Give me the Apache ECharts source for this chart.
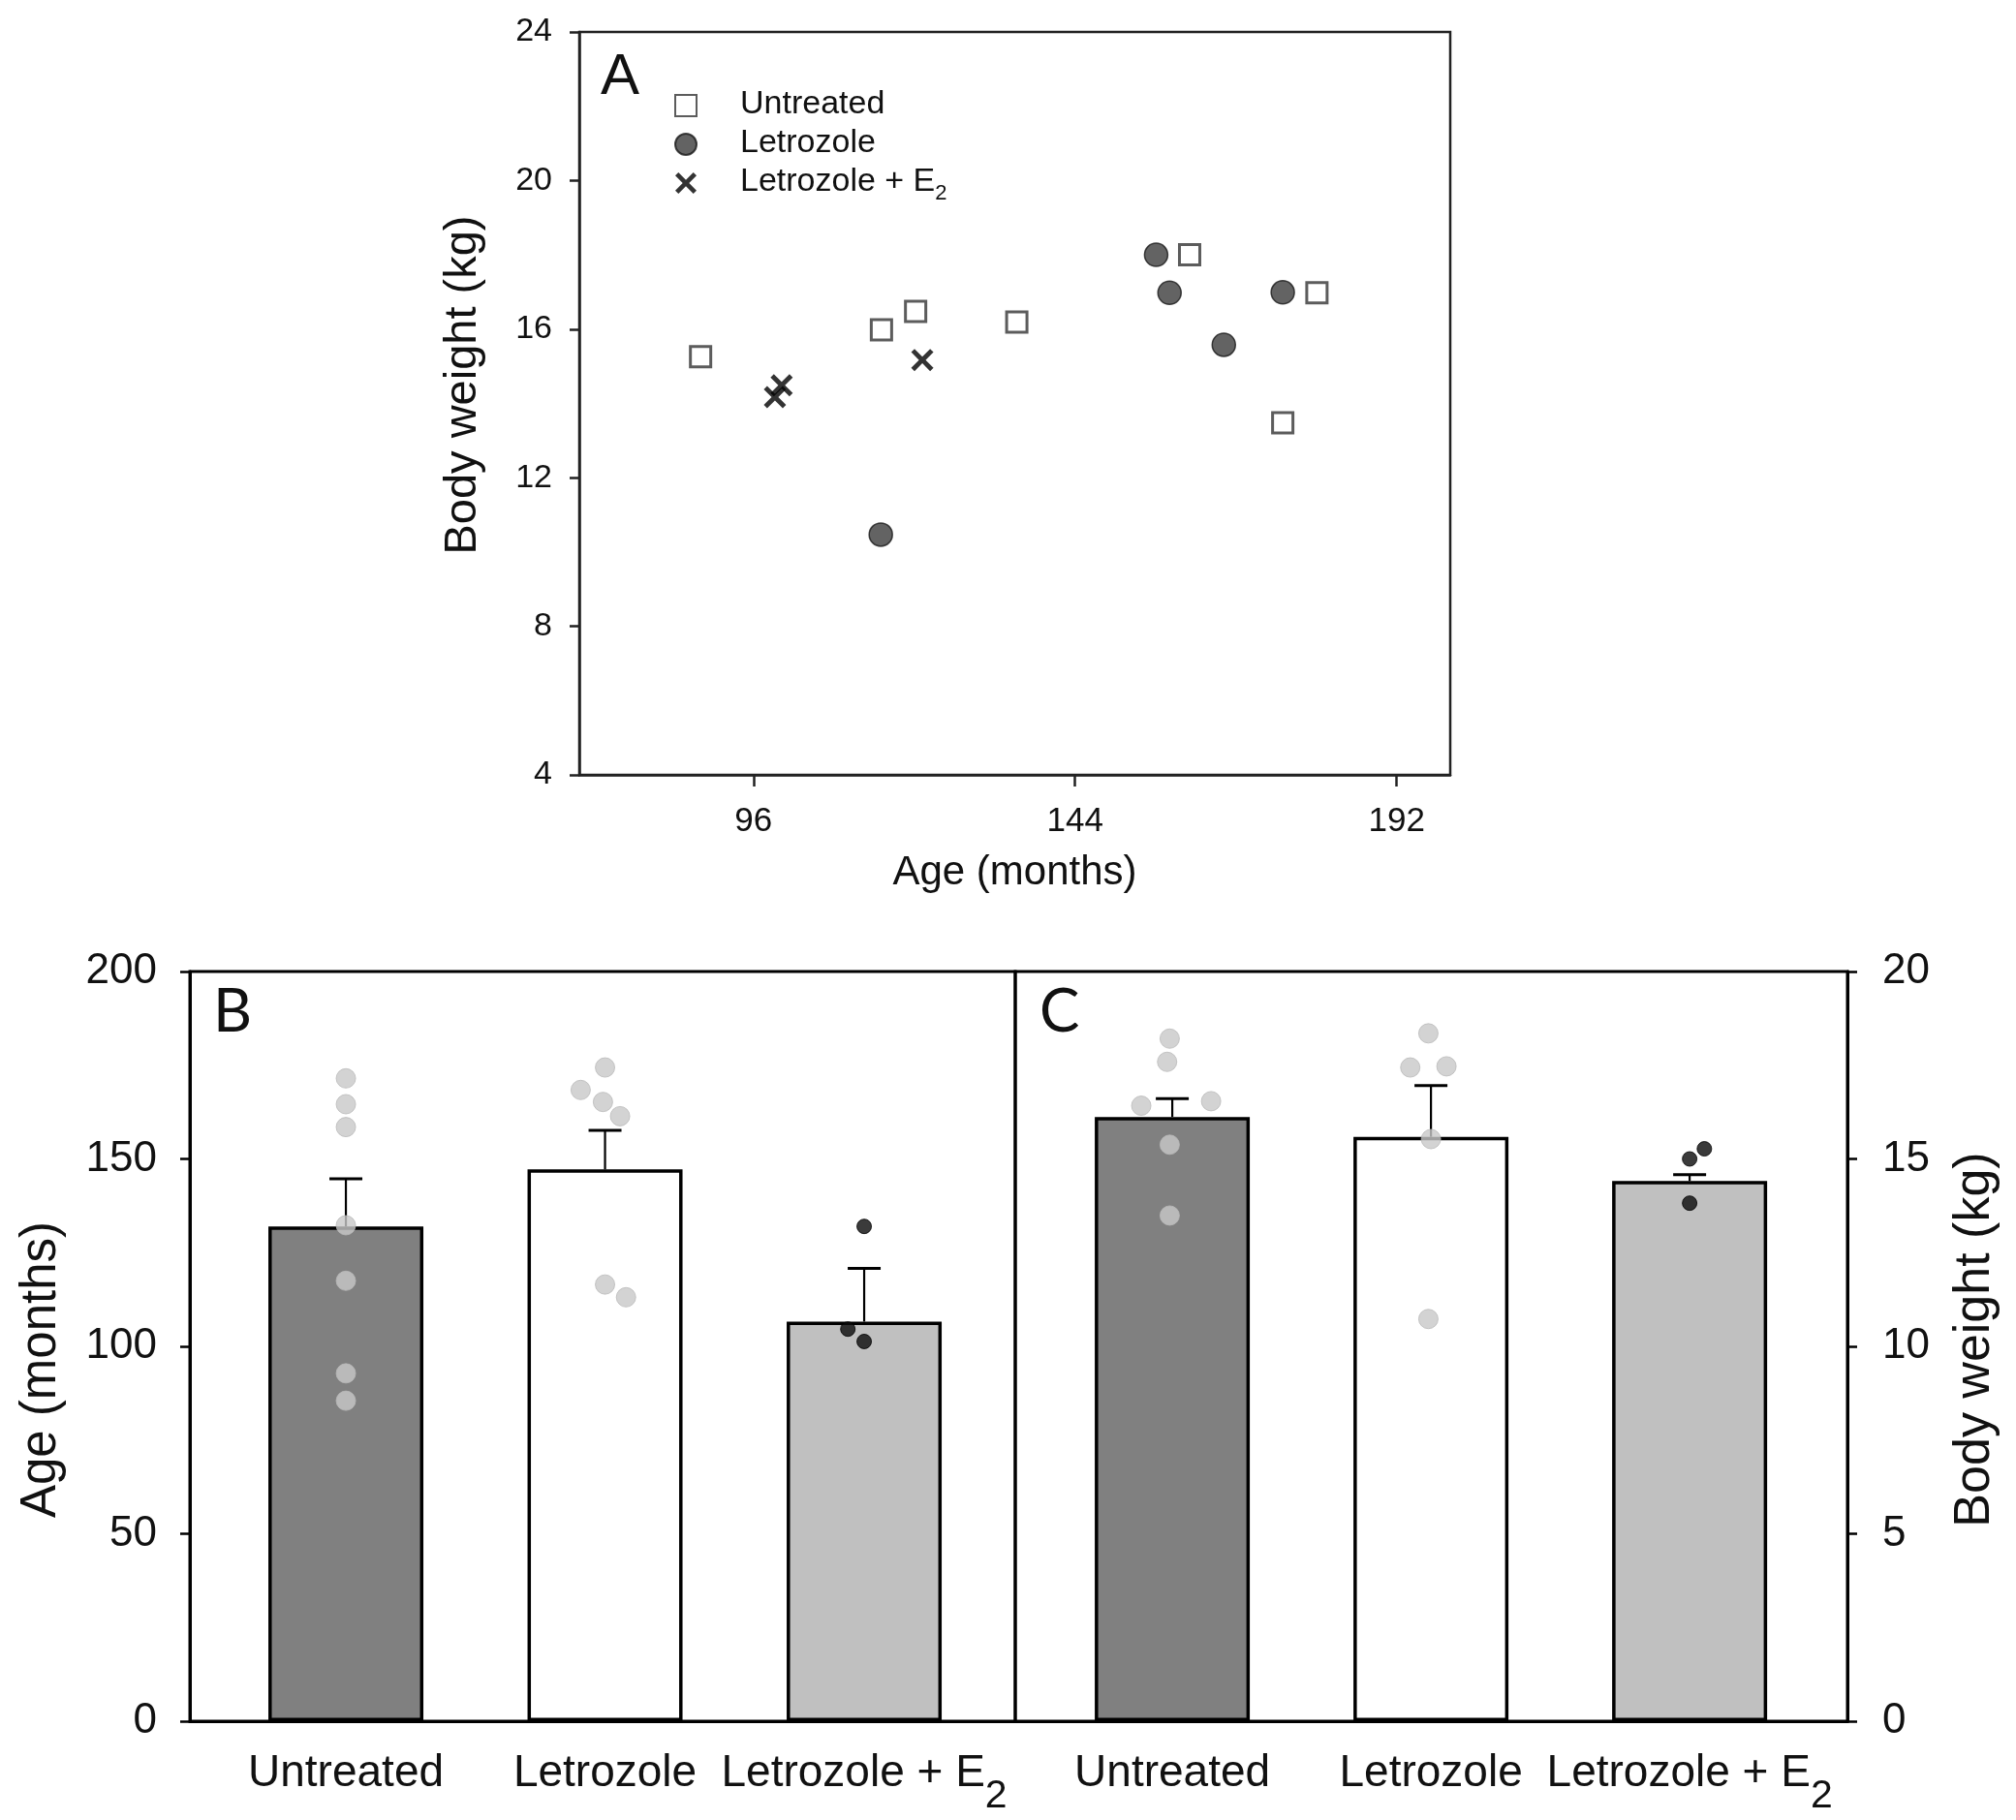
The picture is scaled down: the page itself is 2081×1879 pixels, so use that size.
<!DOCTYPE html>
<html>
<head>
<meta charset="utf-8">
<script src="https://cdn.jsdelivr.net/npm/echarts@6/dist/echarts.min.js"></script>
<style>
html,body{margin:0;padding:0;background:#fff;}
#c{width:2081px;height:1879px;}
</style>
</head>
<body>
<div id="c"></div>
<script>
// ---------- Data ----------
// Panel A: individual animals (age in months, body weight in kg)
const aUntreatedAge = [88.1, 115.1, 120.2, 135.3, 161.1, 175.0, 180.1];
const aUntreatedWt  = [15.26, 15.98, 16.48, 16.19, 18.0, 13.48, 16.98];
const aLetrozoleAge = [115.0, 156.1, 158.1, 166.2, 175.0];
const aLetrozoleWt  = [10.47, 18.0, 16.98, 15.58, 16.99];
const aE2Age = [99.2, 100.2, 121.2];
const aE2Wt  = [14.17, 14.49, 15.17];

// Panels B & C: group summaries
const groups = ['Untreated', 'Letrozole', 'Letrozole + E2'];
const ageMean = [132.0, 147.2, 106.6];
const ageSem  = [12.7, 10.4, 14.2];
const wtMean  = [16.12, 15.59, 14.41];
const wtSem   = [0.49, 1.37, 0.17];

// Panel B individual ages, with horizontal jitter (in category units)
const bUntreated = [171.5, 164.6, 158.5, 132.3, 117.5, 92.8, 85.5];
const bUntreatedJit = [0, 0, 0, 0, 0, 0, 0];
const bLetrozole = [174.4, 168.4, 165.2, 161.4, 116.5, 113.1];
const bLetrozoleJit = [0, -0.094, -0.008, 0.058, 0, 0.081];
const bE2 = [132.0, 104.6, 101.3];
const bE2Jit = [0, -0.063, 0];

// Panel C individual weights, with jitter
const cUntreated = [18.21, 17.59, 16.42, 16.54, 15.38, 13.49];
const cUntreatedJit = [-0.01, -0.02, -0.12, 0.15, -0.01, -0.01];
const cLetrozole = [18.35, 17.44, 17.47, 15.53, 10.73];
const cLetrozoleJit = [-0.01, -0.08, 0.06, 0, -0.01];
const cE2 = [15.0, 15.27, 13.82];
const cE2Jit = [0, 0.057, 0];

// Tick values
const aXTicks = [96, 144, 192];
const bcXTicks = [0, 1, 2];

// ---------- Build ----------
const FONT = '"Liberation Sans", Arial, sans-serif';
const TXT = '#111';
const barColors = ['#808080', '#ffffff', '#c0c0c0'];

const zip = (xs, ys) => xs.map((x, i) => [x, ys[i]]);
function dots(vals, jit, g) { return vals.map((v, i) => [g + jit[i], v, g]); }

const crossPath = 'path://M3,0 L10,7 L17,0 L20,3 L13,10 L20,17 L17,20 L10,13 L3,20 L0,17 L7,10 L0,3 Z';

const catLabelRich = {
  n: {fontSize: 46, fontFamily: FONT, color: TXT, lineHeight: 56, verticalAlign: 'top'},
  s: {fontSize: 41, fontFamily: FONT, color: TXT, lineHeight: 56, verticalAlign: 'top', padding: [26, 0, 0, 0]}
};
function catFormatter(v) {
  const name = groups[Math.round(v)];
  if (name === 'Letrozole + E2') return '{n|Letrozole + E}{s|2}';
  return '{n|' + name + '}';
}

const bcXAxisCommon = {
  type: 'value',
  axisLine: {show: true, onZero: false, lineStyle: {color: '#000', width: 3}},
  axisTick: {show: false},
  splitLine: {show: false},
  axisLabel: {customValues: bcXTicks, formatter: catFormatter, margin: 31, rich: catLabelRich}
};

function errSeries(xi, yi, means, sems) {
  return {
    type: 'custom', xAxisIndex: xi, yAxisIndex: yi, z: 3,
    data: means.map((m, i) => [i, m, sems[i]]),
    renderItem: function (params, api) {
      const x = api.value(0), m = api.value(1), s = api.value(2);
      const p0 = api.coord([x, m]);
      const p1 = api.coord([x, m + s]);
      const hw = 17;
      return {type: 'group', children: [
        {type: 'line', shape: {x1: p0[0], y1: p0[1], x2: p1[0], y2: p1[1]}, style: {stroke: '#000', lineWidth: 2.2}},
        {type: 'line', shape: {x1: p1[0] - hw, y1: p1[1], x2: p1[0] + hw, y2: p1[1]}, style: {stroke: '#000', lineWidth: 3}}
      ]};
    }
  };
}
function barSeries(xi, yi, means) {
  return {
    type: 'bar', xAxisIndex: xi, yAxisIndex: yi, barWidth: 160, z: 2,
    data: means.map((m, i) => ({value: [i, m], itemStyle: {color: barColors[i]}})),
    itemStyle: {borderColor: '#000', borderWidth: 3.5}
  };
}
function dotSeries(xi, yi, data, black) {
  return {
    type: 'scatter', xAxisIndex: xi, yAxisIndex: yi, z: 5,
    symbol: 'circle', symbolSize: black ? 15 : 20,
    itemStyle: black ? {color: '#0a0a0a', borderColor: '#000', borderWidth: 1}
                     : {color: '#c8c8c8', borderColor: '#b9b9b9', borderWidth: 1},
    data: data
  };
}

const option = {
  backgroundColor: '#fff',
  animation: false,
  textStyle: {fontFamily: FONT, color: TXT},
  grid: [
    {left: 598, top: 33, width: 899, height: 767, show: true, borderColor: '#222', borderWidth: 2.5, backgroundColor: 'transparent'},
    {left: 196, top: 1003, width: 852, height: 774, show: true, borderColor: '#000', borderWidth: 3, backgroundColor: 'transparent'},
    {left: 1048, top: 1003, width: 859, height: 774, show: true, borderColor: '#000', borderWidth: 3, backgroundColor: 'transparent'}
  ],
  xAxis: [
    {
      gridIndex: 0, type: 'value', min: 70, max: 200,
      name: 'Age (months)', nameLocation: 'middle', nameGap: 80,
      nameTextStyle: {fontSize: 42, fontFamily: FONT, color: TXT},
      axisLine: {show: true, onZero: false, lineStyle: {color: '#222', width: 2.5}},
      axisTick: {show: true, customValues: aXTicks, length: 12, lineStyle: {color: '#222', width: 2.5}},
      axisLabel: {customValues: aXTicks, fontSize: 35, fontFamily: FONT, color: TXT, margin: 31},
      splitLine: {show: false}
    },
    Object.assign({gridIndex: 1, min: -0.602, max: 2.583}, bcXAxisCommon),
    Object.assign({gridIndex: 2, min: -0.607, max: 2.61}, bcXAxisCommon)
  ],
  yAxis: [
    {
      gridIndex: 0, type: 'value', min: 4, max: 24, interval: 4,
      name: 'Body weight (kg)', nameLocation: 'middle', nameGap: 96,
      nameTextStyle: {fontSize: 47, fontFamily: FONT, color: TXT, padding: [0, 0, 0, 38]},
      axisLine: {show: true, onZero: false, lineStyle: {color: '#222', width: 2.5}},
      axisTick: {show: true, length: 10, lineStyle: {color: '#222', width: 2.5}},
      axisLabel: {fontSize: 34, fontFamily: FONT, color: TXT, margin: 28},
      splitLine: {show: false}
    },
    {
      gridIndex: 1, type: 'value', min: 0, max: 200, interval: 50, position: 'left',
      name: 'Age (months)', nameLocation: 'middle', nameGap: 128,
      nameTextStyle: {fontSize: 51, fontFamily: FONT, color: TXT, padding: [0, 48, 0, 0]},
      axisLine: {show: true, onZero: false, lineStyle: {color: '#000', width: 3}},
      axisTick: {show: true, length: 10, lineStyle: {color: '#000', width: 2.5}},
      axisLabel: {fontSize: 44, fontFamily: FONT, color: TXT, margin: 34},
      splitLine: {show: false}
    },
    {
      gridIndex: 2, type: 'value', min: 0, max: 20, interval: 5, position: 'right',
      name: 'Body weight (kg)', nameLocation: 'middle', nameGap: 106,
      nameTextStyle: {fontSize: 52, fontFamily: FONT, color: TXT, padding: [0, 0, 0, 14]},
      axisLine: {show: true, onZero: false, lineStyle: {color: '#000', width: 3}},
      axisTick: {show: true, length: 10, lineStyle: {color: '#000', width: 2.5}},
      axisLabel: {fontSize: 44, fontFamily: FONT, color: TXT, margin: 36},
      splitLine: {show: false}
    }
  ],
  legend: {
    orient: 'vertical', left: 691, top: 86, itemGap: 6,
    itemWidth: 22, itemHeight: 22,
    data: ['Untreated', 'Letrozole', 'Letrozole + E2'],
    formatter: function (name) {
      return name === 'Letrozole + E2' ? '{n|Letrozole + E}{s|2}' : '{n|' + name + '}';
    },
    textStyle: {
      padding: [0, 0, 0, 40],
      rich: {
        n: {fontSize: 34, fontFamily: FONT, color: TXT, lineHeight: 36, verticalAlign: 'top'},
        s: {fontSize: 22, fontFamily: FONT, color: TXT, lineHeight: 36, verticalAlign: 'top', padding: [18, 0, 0, 0]}
      }
    }
  },
  graphic: [
    {type: 'text', left: 620, top: 50, style: {text: 'A', fontSize: 60, fontFamily: FONT, fill: TXT}},
    {type: 'text', left: 220, top: 1014, style: {text: 'B', fontSize: 62, fontFamily: 'Lato, "Open Sans", sans-serif', fill: TXT}},
    {type: 'text', left: 1073, top: 1014, style: {text: 'C', fontSize: 62, fontFamily: 'Lato, "Open Sans", sans-serif', fill: TXT}}
  ],
  series: [
    {
      name: 'Untreated', type: 'scatter', xAxisIndex: 0, yAxisIndex: 0,
      symbol: 'rect', symbolSize: 21, z: 4,
      itemStyle: {color: '#fff', borderColor: '#333', borderWidth: 3},
      data: zip(aUntreatedAge, aUntreatedWt)
    },
    {
      name: 'Letrozole', type: 'scatter', xAxisIndex: 0, yAxisIndex: 0,
      symbol: 'circle', symbolSize: 24, z: 4,
      itemStyle: {color: '#3c3c3c', borderColor: '#1a1a1a', borderWidth: 1.5},
      data: zip(aLetrozoleAge, aLetrozoleWt)
    },
    {
      name: 'Letrozole + E2', type: 'scatter', xAxisIndex: 0, yAxisIndex: 0,
      symbol: crossPath, symbolSize: 23, z: 4,
      itemStyle: {color: '#000'},
      data: zip(aE2Age, aE2Wt)
    },
    // Panel B
    barSeries(1, 1, ageMean),
    errSeries(1, 1, ageMean, ageSem),
    dotSeries(1, 1, dots(bUntreated, bUntreatedJit, 0).concat(dots(bLetrozole, bLetrozoleJit, 1)), false),
    dotSeries(1, 1, dots(bE2, bE2Jit, 2), true),
    // Panel C
    barSeries(2, 2, wtMean),
    errSeries(2, 2, wtMean, wtSem),
    dotSeries(2, 2, dots(cUntreated, cUntreatedJit, 0).concat(dots(cLetrozole, cLetrozoleJit, 1)), false),
    dotSeries(2, 2, dots(cE2, cE2Jit, 2), true)
  ]
};

const chart = echarts.init(document.getElementById('c'), null, {renderer: 'canvas'});
chart.setOption(option);
</script>
</body>
</html>
